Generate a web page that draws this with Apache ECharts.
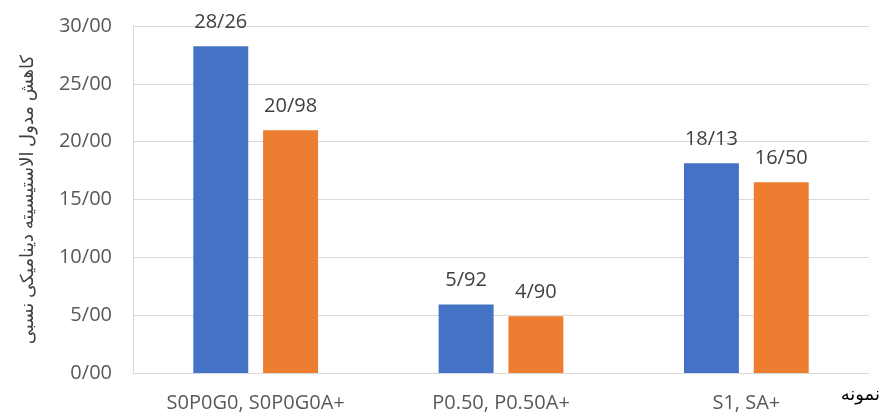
<!DOCTYPE html>
<html><head><meta charset="utf-8">
<script src="https://cdn.jsdelivr.net/npm/echarts@6/dist/echarts.min.js"></script>
<style>html,body{margin:0;padding:0;background:#fff}#c{width:882px;height:417px}</style>
</head><body><div id="c"></div>
<script>
const categories = ['S0P0G0, S0P0G0A+', 'P0.50, P0.50A+', 'S1, SA+'];
const seriesA = [28.26, 5.92, 18.13];
const seriesB = [20.98, 4.90, 16.50];
const yTitle = 'کاهش مدول الاستیسیته دینامیکی نسبی';
const xTitle = 'نمونه';
const fmt = v => v.toFixed(2).replace('.', '/');
const font = 'Open Sans, Noto Sans, sans-serif';
const chart = echarts.init(document.getElementById('c'));
chart.setOption({
  animation: false,
  grid: {left: 133, right: 13, top: 26, bottom: 44},
  xAxis: {
    type: 'category', data: categories,
    axisLine: {lineStyle: {color: '#d9d9d9'}},
    axisTick: {show: false},
    axisLabel: {color: '#595959', fontSize: 20, fontFamily: font, margin: 20}
  },
  yAxis: {
    type: 'value', min: 0, max: 30, interval: 5,
    name: yTitle, nameLocation: 'middle', nameRotate: 90, nameGap: 96,
    nameTextStyle: {color: '#404040', fontSize: 18, fontFamily: 'Noto Sans, DejaVu Sans, sans-serif'},
    axisLine: {show: true, lineStyle: {color: '#d9d9d9'}},
    splitLine: {lineStyle: {color: '#d9d9d9'}},
    axisLabel: {color: '#595959', fontSize: 20, fontFamily: font, margin: 21, formatter: fmt}
  },
  graphic: [{type: 'text', right: 2, top: 386, style: {text: xTitle, fill: '#000', font: '18px Noto Sans, DejaVu Sans, sans-serif'}}],
  series: [
    {type: 'bar', data: seriesA, barWidth: '22.4%', barGap: '27%', itemStyle: {color: '#4472c4'},
     label: {show: true, position: 'top', distance: 14, color: '#404040', fontSize: 20, fontFamily: font, formatter: p => fmt(p.value)}},
    {type: 'bar', data: seriesB, barWidth: '22.4%', barGap: '27%', itemStyle: {color: '#ed7d31'},
     label: {show: true, position: 'top', distance: 14, color: '#404040', fontSize: 20, fontFamily: font, formatter: p => fmt(p.value)}}
  ]
});
</script></body></html>
